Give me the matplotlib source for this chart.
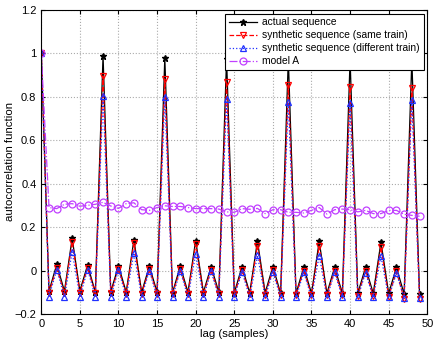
import matplotlib
matplotlib.use("Agg")
import matplotlib.pyplot as plt
from matplotlib.ticker import FuncFormatter
import numpy as np

plt.rcParams['font.family'] = ['Liberation Sans', 'DejaVu Sans']

lags = list(range(50))

actual = [1.0, -0.095, 0.028, -0.095, 0.148, -0.093, 0.025, -0.1,
          0.99, -0.098, 0.022, -0.1, 0.142, -0.1, 0.02, -0.1,
          0.98, -0.102, 0.02, -0.1, 0.138, -0.1, 0.018, -0.1,
          0.975, -0.103, 0.018, -0.103, 0.136, -0.102, 0.018, -0.105,
          0.975, -0.105, 0.015, -0.105, 0.134, -0.105, 0.015, -0.105,
          0.97, -0.105, 0.014, -0.105, 0.13, -0.105, 0.014, -0.108,
          0.97, -0.11]

same_train = [1.0, -0.102, 0.012, -0.104, 0.132, -0.102, 0.012, -0.105,
              0.896, -0.104, 0.008, -0.106, 0.125, -0.106, 0.006, -0.108,
              0.882, -0.108, 0.005, -0.108, 0.12, -0.108, 0.004, -0.11,
              0.87, -0.11, 0.002, -0.11, 0.115, -0.112, 0.002, -0.112,
              0.855, -0.112, 0.0, -0.113, 0.112, -0.114, 0.0, -0.115,
              0.844, -0.116, -0.002, -0.118, 0.108, -0.12, -0.004, -0.13,
              0.839, -0.13]

diff_train = [1.0, -0.12, 0.004, -0.12, 0.086, -0.12, 0.004, -0.12,
              0.802, -0.12, 0.002, -0.12, 0.08, -0.12, 0.0, -0.122,
              0.80, -0.122, -0.002, -0.122, 0.075, -0.122, -0.004, -0.122,
              0.79, -0.122, -0.006, -0.122, 0.07, -0.122, -0.006, -0.124,
              0.775, -0.124, -0.008, -0.124, 0.068, -0.124, -0.008, -0.124,
              0.77, -0.124, -0.01, -0.124, 0.066, -0.124, -0.012, -0.126,
              0.785, -0.128]

model_a = [1.0, 0.29, 0.285, 0.305, 0.308, 0.296, 0.30, 0.305,
           0.314, 0.297, 0.286, 0.308, 0.312, 0.28, 0.277, 0.29,
           0.298, 0.295, 0.295, 0.29, 0.285, 0.285, 0.285, 0.283,
           0.27, 0.268, 0.285, 0.282, 0.286, 0.262, 0.28, 0.28,
           0.268, 0.268, 0.265, 0.277, 0.29, 0.26, 0.28, 0.283,
           0.28, 0.27, 0.277, 0.262, 0.262, 0.277, 0.277, 0.259,
           0.254, 0.25]

fig = plt.figure(figsize=(4.36, 3.42), dpi=100)
ax = fig.add_axes([0.0947, 0.082, 0.8853, 0.889])

ax.plot(lags, actual, color='black', linestyle='-', linewidth=0.9,
        marker='*', markersize=4.5, label='actual sequence')
ax.plot(lags, same_train, color='#ff0000', linestyle='--', linewidth=0.9,
        marker='v', markersize=5, markerfacecolor='none', markeredgewidth=0.9,
        label='synthetic sequence (same train)')
ax.plot(lags, diff_train, color='#2030ff', linestyle=':', linewidth=0.9,
        marker='^', markersize=5, markerfacecolor='none', markeredgewidth=0.9,
        label='synthetic sequence (different train)')
ax.plot(lags, model_a, color='#c040ff', linestyle='-.', linewidth=0.9,
        marker='o', markersize=5, markerfacecolor='none', markeredgewidth=0.9,
        label='model A')

ax.set_xlim(0, 50)
ax.set_ylim(-0.2, 1.2)
ax.set_xticks(np.arange(0, 51, 5))
ax.set_yticks(np.arange(-0.2, 1.21, 0.2))

def fmt(v, pos):
    s = ('%.1f' % v)
    if abs(v) < 1e-9:
        return '0'
    if abs(v - 1.0) < 1e-9:
        return '1'
    return s.replace('-', '\u2212')

ax.yaxis.set_major_formatter(FuncFormatter(fmt))
ax.tick_params(direction='in', labelsize=8, length=3, top=True, right=True)
ax.grid(True, linestyle=':', color='#aaaaaa', linewidth=0.8)
for s in ax.spines.values():
    s.set_linewidth(0.8)

ax.set_xlabel('lag (samples)', fontsize=8.2)
ax.set_ylabel('autocorrelation function', fontsize=8.2)
ax.xaxis.set_label_coords(0.5, -0.048)
ax.yaxis.set_label_coords(-0.068, 0.5)

leg = ax.legend(loc='upper right', fontsize=7.4, frameon=True, fancybox=False,
                edgecolor='black', framealpha=1, borderpad=0.35,
                labelspacing=0.3, handlelength=2.8, handletextpad=0.5,
                borderaxespad=0.35)
leg.get_frame().set_linewidth(0.8)

fig.savefig('out.png', dpi=100)
